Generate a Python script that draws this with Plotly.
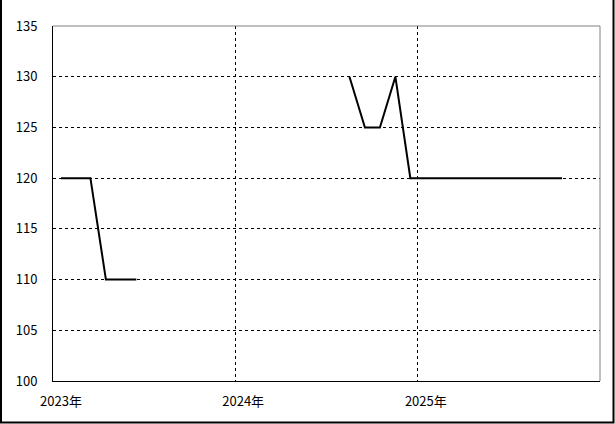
import plotly.graph_objects as go

# monthly readings, plotted at mid-month (None = no reading)
months = [
    "2023-01-17", "2023-02-17", "2023-03-17", "2023-04-17", "2023-05-17", "2023-06-17",
    "2023-07-17", "2023-08-17", "2023-09-17", "2023-10-17", "2023-11-17", "2023-12-17",
    "2024-01-17", "2024-02-17", "2024-03-17", "2024-04-17", "2024-05-17", "2024-06-17",
    "2024-07-17", "2024-08-17", "2024-09-17", "2024-10-17", "2024-11-17", "2024-12-17",
    "2025-01-17", "2025-02-17", "2025-03-17", "2025-04-17", "2025-05-17", "2025-06-17",
    "2025-07-17", "2025-08-17", "2025-09-17", "2025-10-17",
]
values = [
    120, 120, 120, 110, 110, 110,
    None, None, None, None, None, None,
    None, None, None, None, None, None,
    None, 130, 125, 125, 130, 120,
    120, 120, 120, 120, 120, 120,
    120, 120, 120, 120,
]

year_ticks = ["2023-01-01", "2024-01-01", "2025-01-01"]
year_labels = ["2023年", "2024年", "2025年"]
y_ticks = [100, 105, 110, 115, 120, 125, 130, 135]

FONT = "Noto Sans CJK JP"

fig = go.Figure(go.Scatter(x=months, y=values, mode="lines",
                           line=dict(color="black", width=2),
                           connectgaps=False, showlegend=False, hoverinfo="skip"))

fig.update_xaxes(range=["2023-01-01", "2026-01-01"], type="date",
                 tickvals=year_ticks, ticktext=year_labels,
                 showgrid=True, gridcolor="black", gridwidth=1, griddash="3px,3px",
                 showline=True, linecolor="black", linewidth=1,
                 ticks="", ticklabelshift=8, ticklabelstandoff=8,
                 tickfont=dict(family=FONT, size=13, color="black"), zeroline=False)
fig.update_yaxes(range=[100, 135], tickvals=y_ticks,
                 showgrid=True, gridcolor="black", gridwidth=1, griddash="3px,3px",
                 showline=True, linecolor="black", linewidth=1,
                 ticks="", ticklabelstandoff=12,
                 tickfont=dict(family=FONT, size=13, color="black"), zeroline=False)

W, H = 615, 424
L, R, T, B = 53, 15, 26, 43
pw, ph = W - L - R, H - T - B

def px_x(x):
    return (x - L) / pw

def px_y(y):
    return (H - B - y) / ph

shapes = [
    # grey top / right edges of the plot area
    dict(type="line", xref="paper", yref="paper", x0=0, x1=1, y0=1, y1=1,
         line=dict(color="#808080", width=1)),
    dict(type="line", xref="paper", yref="paper", x0=1, x1=1, y0=0, y1=1,
         line=dict(color="#808080", width=1)),
    # outer frame
    dict(type="rect", xref="paper", yref="paper",
         x0=px_x(1), x1=px_x(613.5), y0=px_y(422.5), y1=px_y(-5),
         line=dict(color="black", width=2), fillcolor="rgba(0,0,0,0)"),
]

fig.update_layout(width=W, height=H, margin=dict(l=L, r=R, t=T, b=B),
                  paper_bgcolor="white", plot_bgcolor="white",
                  shapes=shapes, font=dict(family=FONT, color="black"))

# page body has an 8px default margin; drop it so the figure sits at 0,0
fig.write_html("out.html", config={"displayModeBar": False},
               post_script="document.body.style.margin='0';")
